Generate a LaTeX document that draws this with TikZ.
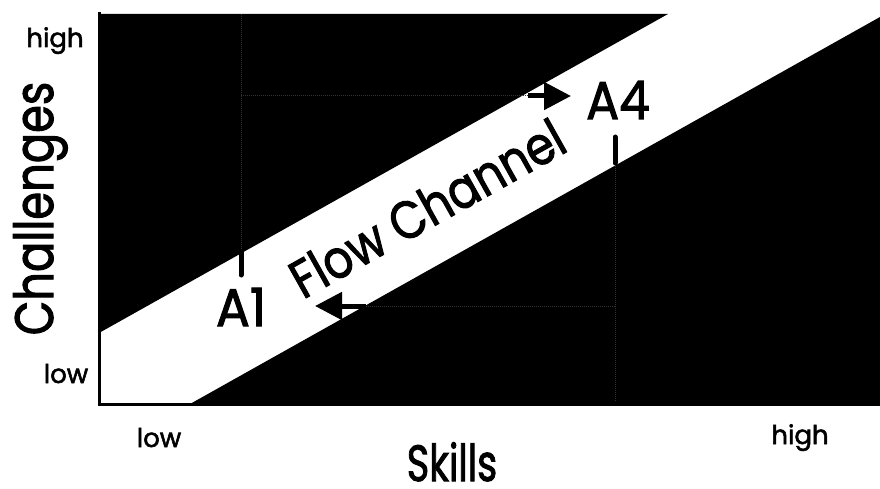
\documentclass[tikz,border=0pt]{standalone}
\usepackage{fontspec}
\setmainfont{Poppins}[FakeBold=2]
\usetikzlibrary{arrows.meta}

% horizontally condensed text
\newcommand{\narrow}[2]{\scalebox{#1}[1]{#2}}

\begin{document}
\begin{tikzpicture}[x=1pt,y=-1pt,
    zone/.style={fill=black,draw=none},
    axisline/.style={line width=3pt,line cap=rect},
    tick/.style={line width=5pt,line cap=round},
    flowarrow/.style={line width=5pt,-{Triangle[length=27pt,width=27pt]}},
    guide/.style={draw=black!80,line width=1pt,densely dotted},
    biglabel/.style={inner sep=0pt,font=\fontsize{53}{53}\selectfont},
    axislabel/.style={inner sep=0pt,font=\fontsize{54}{54}\selectfont},
    scalelabel/.style={inner sep=0pt,font=\fontsize{26}{26}\selectfont}]

  % page frame
  \useasboundingbox (0,0) rectangle (880,489);

  % corners of the plot area
  \coordinate (origin) at (99,404);
  \coordinate (ytop)   at (99,14);
  \coordinate (xend)   at (880,404);

  % anxiety (upper left) and boredom (lower right) regions
  \fill[zone] (ytop) -- (668,14) -- (99,333) -- cycle;
  \fill[zone] (190,404) -- (880,17) -- (xend) -- cycle;

  % faint guide lines of the A1 - A4 path
  \draw[guide] (241,14) -- (241,250);
  \draw[guide] (241,96) -- (528,96);
  \draw[guide] (615,166) -- (615,402);
  \draw[guide] (366,306) -- (615,306);

  % axes
  \draw[axisline] (ytop) -- (origin) -- (xend);

  % markers of the two states
  \coordinate (t1a) at (241,252);
  \coordinate (t1b) at (241,275);
  \coordinate (t4a) at (615,137);
  \coordinate (t4b) at (615,163);
  \draw[tick] (t1a) -- (t1b);
  \draw[tick] (t4a) -- (t4b);

  % arrows along the channel edges
  \coordinate (r0) at (528,96);
  \coordinate (r1) at (571,96);
  \coordinate (l0) at (366,306);
  \coordinate (l1) at (315,306);
  \draw[flowarrow] (r0) -- (r1);
  \draw[flowarrow] (l0) -- (l1);

  % labels
  \node[biglabel] (a1) at (241,307) {\narrow{0.95}{A1}};
  \node[biglabel] (a4) at (618,100) {\narrow{0.92}{A4}};
  \node[biglabel,rotate=29.27] (flow) at (427,208) {\narrow{0.86}{Flow Channel}};

  \node[axislabel,rotate=90,anchor=base] (ylab) at (53,208.5) {\narrow{0.83}{Challenges}};
  \node[axislabel,anchor=base] (xlab) at (452,481) {\narrow{0.75}{\fontsize{51}{51}\selectfont Skills}};

  \node[scalelabel,anchor=base] (yhigh) at (55,47) {high};
  \node[scalelabel,anchor=base] (ylow)  at (66,383) {low};
  \node[scalelabel,anchor=base] (xlow)  at (159,447) {low};
  \node[scalelabel,anchor=base] (xhigh) at (800,444) {high};
\end{tikzpicture}
\end{document}
